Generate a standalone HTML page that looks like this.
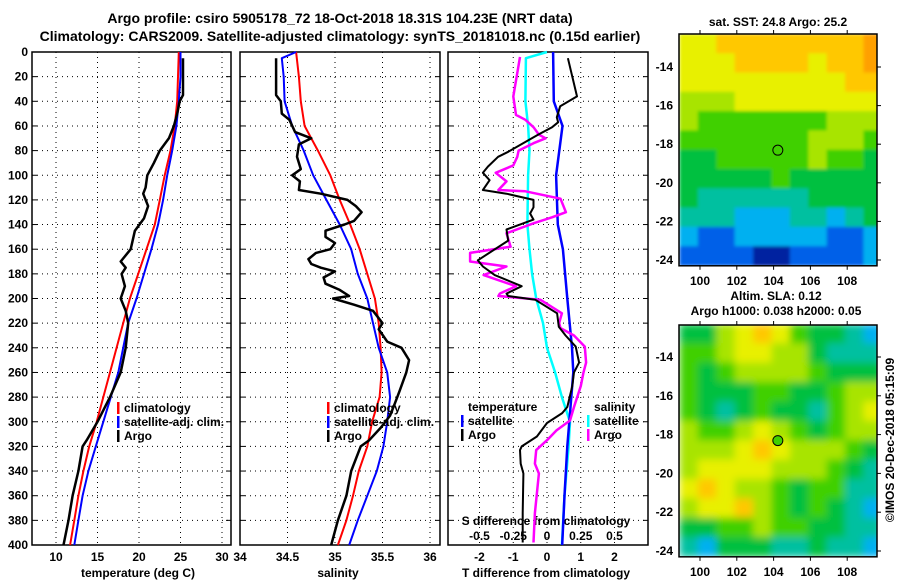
<!DOCTYPE html>
<html><head><meta charset="utf-8"><style>
html,body{margin:0;padding:0;background:#fff}
svg{display:block;font-family:"Liberation Sans",sans-serif;font-weight:bold}
</style></head><body>
<svg id="s" width="900" height="580" viewBox="0 0 900 580">
<text x="340" y="23" font-size="14" text-anchor="middle">Argo profile: csiro 5905178_72 18-Oct-2018 18.31S 104.23E (NRT data)</text>
<text x="340" y="41" font-size="14" text-anchor="middle">Climatology: CARS2009. Satellite-adjusted climatology: synTS_20181018.nc (0.15d earlier)</text>
<g id="g"></g>
</svg>
<script>
// ---------- data ----------
const tDepth=[0,20,40,60,80,100,120,140,160,180,200,220,240,260,280,300,320,340,360,380,400];
const tClim=[24.8,24.7,24.6,24.3,23.8,23.1,22.5,21.9,20.9,19.9,18.9,18.1,17.3,16.5,15.7,14.9,14.0,13.3,12.7,12.2,11.7];
const tSat=[25.0,25.0,24.8,24.5,24.0,23.4,22.9,22.3,21.5,20.6,19.7,18.7,18.1,17.5,16.6,15.7,14.8,13.9,13.2,12.7,12.2];
const tArgoDepth=[5,35,40,50,60,70,80,90,100,110,115,125,135,145,160,170,175,180,190,200,210,220,240,260,280,300,315,320,340,360,380,400];
const tArgo=[25.3,25.3,24.9,24.6,24.2,23.6,22.5,21.8,21.0,20.8,20.5,21.1,20.6,19.5,19.0,17.8,18.4,17.9,18.3,17.8,18.4,18.7,18.4,17.8,16.5,15.0,13.7,13.2,12.7,12.0,11.5,10.9];
const sDepth=[0,20,40,60,80,100,120,140,160,180,200,220,240,260,280,300,320,340,360,380,400];
const sClim=[34.59,34.62,34.64,34.68,34.82,34.95,35.05,35.16,35.26,35.34,35.42,35.46,35.48,35.49,35.47,35.39,35.34,35.25,35.19,35.12,35.03];
const sSatDepth=[0,5,20,40,60,80,100,120,140,160,180,200,220,240,260,280,300,320,340,360,380,400];
const sSat=[34.59,34.44,34.46,34.47,34.55,34.67,34.77,34.91,35.05,35.17,35.24,35.34,35.40,35.46,35.55,35.58,35.55,35.51,35.44,35.34,35.24,35.15];
const sArgoDepth=[5,35,40,50,55,65,70,75,85,95,100,105,112,115,120,125,130,137,140,145,150,155,160,163,168,172,175,178,183,188,193,198,200,205,210,220,225,235,240,250,260,275,285,295,305,315,320,340,360,380,400];
const sArgo=[34.38,34.38,34.43,34.44,34.52,34.58,34.75,34.62,34.60,34.64,34.55,34.63,34.62,34.85,35.13,35.22,35.28,35.2,35.1,34.9,34.9,35.0,34.95,34.8,34.72,34.75,34.85,35.0,34.88,34.9,35.05,35.15,34.98,35.2,35.4,35.5,35.46,35.55,35.7,35.78,35.75,35.68,35.63,35.58,35.48,35.36,35.27,35.17,35.12,35.03,34.96];
const dTSatDepth=[0,40,60,100,140,160,200,240,260,300,320,360,400];
const dTSat=[0.18,0.2,0.46,0.27,0.32,0.47,0.6,0.74,0.78,0.66,0.6,0.52,0.45];
const dSSatDepth=[0,5,40,60,80,100,140,160,180,200,220,240,260,280,300,320,360,400];
const dSSat=[0.0,-0.156,-0.16,-0.14,-0.13,-0.14,-0.145,-0.13,-0.11,-0.08,-0.03,0.0,0.06,0.11,0.17,0.16,0.13,0.11];
const dTArgoDepth=[5,36,44,53,57,61,67,81,85,93,98,104,112,115,120,126,131,136,144,153,169,174,181,190,196,198,201,212,223,230,239,252,260,271,288,293,301,312,320,323,334,342,374,398];
const dTArgo=[0.62,0.89,0.39,0.29,0.33,0.15,-0.26,-1.15,-1.45,-1.75,-1.9,-1.7,-1.9,-1.2,-0.4,-0.4,-0.5,-0.4,-1.2,-1.15,-2.05,-1.9,-1.55,-0.75,-1.2,-1.15,-0.35,0.3,0.35,0.55,0.85,0.95,0.8,0.75,0.6,0.45,0.0,-0.3,-0.75,-0.8,-0.78,-0.7,-0.72,-0.72];
const dSArgoDepth=[4,36,51,55,61,67,70,74,80,85,92,98,105,112,113,119,130,134,139,147,158,163,170,174,181,190,196,198,201,212,220,224,230,239,252,260,271,288,299,307,315,323,334,342,374,398];
const dSArgo=[-0.2,-0.25,-0.23,-0.16,-0.1,-0.06,-0.01,-0.1,-0.21,-0.22,-0.25,-0.38,-0.3,-0.36,-0.16,0.1,0.14,0.04,-0.1,-0.3,-0.27,-0.57,-0.57,-0.3,-0.47,-0.23,-0.35,-0.36,-0.05,0.11,0.09,0.1,0.2,0.28,0.29,0.27,0.25,0.2,0.17,0.07,0,-0.08,-0.09,-0.06,-0.09,-0.1];
const depthTicks=[0,20,40,60,80,100,120,140,160,180,200,220,240,260,280,300,320,340,360,380,400];
const tTicks=[10,15,20,25,30];
const sTicks=[34,34.5,35,35.5,36];
const sTickLabels=["34","34.5","35","35.5","36"];
const dTTicks=[-2,-1,0,1,2];
const dSTicks=[-0.5,-0.25,0,0.25,0.5];
const lonTicks=[100,102,104,106,108];
const latTicks=[-14,-16,-18,-20,-22,-24];
const sstGrid=[
[8,8,9,9,9,9,9,9,9,9,10],[8,8,8,9,9,9,9,8,9,9,10],[8,8,8,8,8,8,8,8,8,9,9],[7,7,7,8,8,8,8,8,8,8,8],
[7,6,6,6,6,6,6,6,7,7,7],[6,6,6,6,6,6,6,7,7,7,6],[5,5,6,6,6,6,6,7,6,6,5],[5,5,5,5,5,6,5,5,5,5,5],
[5,4,4,4,4,4,4,5,5,5,5],[4,4,4,3,3,3,4,4,3,4,5],[3,2,2,3,3,3,3,3,2,2,3],[2,2,2,2,1,1,2,2,2,2,3]];
const slaGrid=[
[5,5,7,8,9,8,6,5,5,4,3],[6,6,7,8,8,7,7,5,4,4,4],[6,5,6,7,7,7,7,6,5,5,5],[6,5,5,5,6,6,5,5,6,7,7],
[6,5,4,5,6,5,5,4,6,7,8],[7,6,6,7,8,7,6,5,6,7,7],[7,7,7,8,9,8,7,7,7,6,5],[7,8,8,8,8,7,7,7,6,5,4],
[8,9,8,7,7,6,5,6,6,4,4],[7,8,8,9,7,6,5,6,5,4,3],[5,5,6,6,7,6,6,5,5,4,4],[4,3,5,5,5,4,4,5,4,4,3]];
const argoLon=104.23, argoLat=-18.31;
// ---------- drawing ----------
const NS='http://www.w3.org/2000/svg', G=document.getElementById('g');
function el(t,a,p){const e=document.createElementNS(NS,t);for(const k in a)e.setAttribute(k,a[k]);(p||G).appendChild(e);return e;}
const yD=d=>52+d*1.2325;
function panel(x0,x1,xs,ticks,labels,name,showY){
  const g=el('g',{});
  
  
  depthTicks.forEach(d=>{el('line',{x1:x0,x2:x1,y1:yD(d),y2:yD(d),stroke:'#000','stroke-dasharray':'1,4','stroke-width':1},g);
    el('line',{x1:x0,x2:x0+5,y1:yD(d),y2:yD(d),stroke:'#000'},g);el('line',{x1:x1-5,x2:x1,y1:yD(d),y2:yD(d),stroke:'#000'},g);
    if(showY){const t=el('text',{x:28,y:yD(d)+4,'font-size':12,'text-anchor':'end'},g);t.textContent=d;}});
  ticks.forEach((v,i)=>{const x=xs(v);el('line',{x1:x,x2:x,y1:52,y2:545,stroke:'#000','stroke-dasharray':'1,4'},g);
    const t=el('text',{x:x,y:561,'font-size':12,'text-anchor':'middle'},g);t.textContent=labels[i];});
  el('rect',{x:x0,y:52,width:x1-x0,height:493,fill:'none',stroke:'#000','stroke-width':1.5},g);
  return g;
}
function line(xs,vals,deps,col,w,name){const p=el('polyline',{points:vals.map((v,i)=>xs(v).toFixed(1)+','+yD(deps[i]).toFixed(1)).join(' '),fill:'none',stroke:col,'stroke-width':w,'stroke-linejoin':'round'});
  }
function txt(x,y,s,size,anchor,name,extra){const t=el('text',Object.assign({x:x,y:y,'font-size':size,'text-anchor':anchor||'start'},extra||{}));t.textContent=s;return t;}
function legend(x,y,col,s,name){el('rect',{x:x,y:y-10,width:2.5,height:12,fill:col});txt(x+7,y,s,12,'start',name);}
// panel 1
const xT=v=>56+(v-10)*8.3;
panel(32,231,xT,tTicks,tTicks.map(String),'temperature-panel',true);
line(xT,tClim,tDepth,'#f00',2,'temperature-climatology-line');
line(xT,tSat,tDepth,'#00f',2,'temperature-satellite-line');
line(xT,tArgo,tArgoDepth,'#000',2.5,'temperature-argo-line');
legend(117,412,'#f00','climatology','legend-climatology');
legend(117,426,'#00f','satellite-adj. clim.','legend-satellite');
legend(117,440,'#000','Argo','legend-argo');
txt(138,577,'temperature (deg C)',12,'middle','temperature-axis-title');
// panel 2
const xS=v=>240+(v-34)*95;
panel(240,440,xS,sTicks,sTickLabels,'salinity-panel',false);
line(xS,sClim,sDepth,'#f00',2,'salinity-climatology-line');
line(xS,sSat,sSatDepth,'#00f',2,'salinity-satellite-line');
line(xS,sArgo,sArgoDepth,'#000',2.5,'salinity-argo-line');
legend(327,412,'#f00','climatology','legend-climatology-2');
legend(327,426,'#00f','satellite-adj. clim.','legend-satellite-2');
legend(327,440,'#000','Argo','legend-argo-2');
txt(338,577,'salinity',12,'middle','salinity-axis-title');
// panel 3
const xDT=v=>547+v*33.75, xDS=v=>547+v*135;
panel(448,648,xDT,dTTicks,dTTicks.map(String),'difference-panel',false);
dSTicks.forEach(v=>txt(xDS(v),540,String(v),12,'middle','s-diff-tick-label'));
txt(546,525,'S difference from climatology',12,'middle','s-diff-axis-title');
line(xDS,dSSat,dSSatDepth,'#0ff',2.5,'salinity-satellite-diff-line');
line(xDT,dTSat,dTSatDepth,'#00f',2.5,'temperature-satellite-diff-line');
line(xDS,dSArgo,dSArgoDepth,'#f0f',2.5,'salinity-argo-diff-line');
line(xDT,dTArgo,dTArgoDepth,'#000',2,'temperature-argo-diff-line');
txt(468,411,'temperature',12,'start','legend-temperature-heading');
legend(461,425,'#00f','satellite','legend-t-satellite');
legend(461,439,'#000','Argo','legend-t-argo');
txt(594,411,'salinity',12,'start','legend-salinity-heading');
legend(587,425,'#0ff','satellite','legend-s-satellite');
legend(587,439,'#f0f','Argo','legend-s-argo');
txt(546,577,'T difference from climatology',12,'middle','t-diff-axis-title');
// maps
const pal=['#000080','#0020a0','#0060e8','#00b0f0','#00c0a0','#00c040','#40d000','#a8e400','#e8f000','#ffc800','#ffa000'];
const lonX=v=>700+(v-100)*18.4;
function map(top,latY,grid,name,filt){
  const g=el('g',{});
  const id='c'+top;const cp=el('clipPath',{id:id},g);el('rect',{x:679,y:top,width:198,height:latY(-24.3)-top},cp);
  const h=el('g',{'clip-path':'url(#'+id+')'},g);
  const inner=el('g',{filter:'url(#'+filt+')'},h);
  grid.forEach((row,r)=>row.forEach((v,c)=>{const lat0=-12.3-r,x=lonX(98.9+c),y=latY(lat0);
    const cell=el('rect',{x:x-0.3,y:y-0.3,width:18.4+0.6,height:latY(lat0-1)-y+0.6,fill:pal[v]},inner);
    }));
  const bot=latY(-24.3);
  el('rect',{x:679,y:top,width:198,height:bot-top,fill:'none',stroke:'#000','stroke-width':1.5},g);
  lonTicks.forEach(v=>{const x=lonX(v);el('line',{x1:x,x2:x,y1:top,y2:top-4,stroke:'#000'},g);el('line',{x1:x,x2:x,y1:bot,y2:bot+4,stroke:'#000'},g);
    const t=el('text',{x:x,y:bot+19,'font-size':12,'text-anchor':'middle'},g);t.textContent=v;});
  latTicks.forEach(v=>{const y=latY(v);el('line',{x1:877,x2:881,y1:y,y2:y,stroke:'#000'},g);
    const t=el('text',{x:673,y:y+4,'font-size':12,'text-anchor':'end'},g);t.textContent=v;});
  const dot=el('circle',{cx:lonX(argoLon),cy:latY(argoLat),r:5,fill:pal[6],stroke:'#000','stroke-width':1},g);
  
}
const defs=el('defs',{});
const f=el('filter',{id:'bl',x:'-10%',y:'-10%',width:'120%',height:'120%'},defs);el('feGaussianBlur',{stdDeviation:4},f);
const f2=el('filter',{id:'bl2',x:'-5%',y:'-5%',width:'110%',height:'110%'},defs);el('feGaussianBlur',{stdDeviation:1.5},f2);
map(34,v=>67+(-14-v)*19.3,sstGrid,'sst-map','bl2');
map(325,v=>357+(-14-v)*19.4,slaGrid,'sla-map','bl');
txt(778,26,'sat. SST: 24.8 Argo: 25.2',12,'middle','sst-map-title');
txt(776,300,'Altim. SLA: 0.12',12,'middle','sla-map-title');
txt(776,315,'Argo h1000: 0.038 h2000: 0.05',12,'middle','sla-map-subtitle');
txt(0,0,'©IMOS 20-Dec-2018 05:15:09',12,'middle','timestamp',{transform:'translate(894,440) rotate(-90)'});
</script>
</body></html>
